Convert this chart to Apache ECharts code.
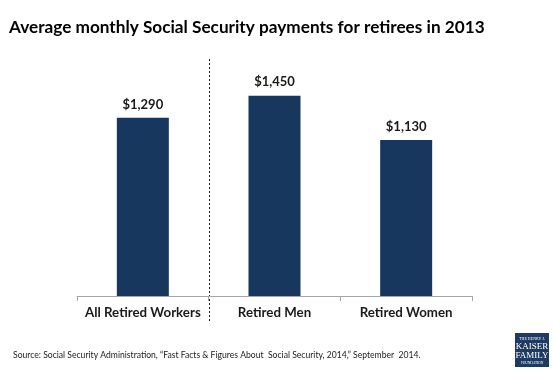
<!DOCTYPE html>
<html>
<head>
<meta charset="utf-8">
<script src="https://cdn.jsdelivr.net/npm/echarts@6/dist/echarts.min.js"></script>
<style>
html,body{margin:0;padding:0;background:#fff;}
#c{width:553px;height:369px;}
</style>
</head>
<body>
<div id="c"></div>
<script>
const categories = ['All Retired Workers', 'Retired Men', 'Retired Women'];
const payments = [1290, 1450, 1130];
const titleText = 'Average monthly Social Security payments for retirees in 2013';
const sourceText = 'Source: Social Security Administration, \u201cFast Facts & Figures About  Social Security, 2014,\u201d September  2014.';

const FONT = 'Lato';
const chart = echarts.init(document.getElementById('c'), null, {renderer: 'canvas'});
chart.setOption({
  animation: false,
  backgroundColor: '#ffffff',
  title: {
    text: titleText,
    left: 4, top: 14,
    textStyle: {fontFamily: FONT, fontWeight: 'bold', fontSize: 17.2, color: '#000000'}
  },
  grid: {left: 77, right: 81, top: 75, bottom: 73, containLabel: false},
  xAxis: {
    type: 'category',
    data: categories,
    axisLine: {lineStyle: {color: '#a6a6a6', width: 1}},
    axisTick: {show: true, length: 5, lineStyle: {color: '#a6a6a6'}},
    axisLabel: {interval: 0, hideOverlap: false, fontFamily: FONT, fontWeight: 'bold', fontSize: 13.3, color: '#1a1a1a', margin: 10}
  },
  yAxis: {type: 'value', min: 0, max: 1600, show: false, splitLine: {show: false}},
  series: [{
    type: 'bar',
    data: payments,
    barWidth: 52,
    itemStyle: {color: '#17375e'},
    label: {
      show: true, position: 'top', distance: 7,
      fontFamily: FONT, fontWeight: 'bold', fontSize: 13, color: '#1a1a1a',
      formatter: p => '$' + p.value.toLocaleString('en-US')
    }
  }]
});

const x0 = chart.convertToPixel({xAxisIndex: 0}, 0);
const x1 = chart.convertToPixel({xAxisIndex: 0}, 1);
const sepX = Math.round((x0 + x1) / 2) + 0.5;
chart.setOption({
  graphic: [
    {type: 'line', shape: {x1: sepX, y1: 59, x2: sepX, y2: 323},
     style: {stroke: '#1a1a1a', lineWidth: 1, lineDash: [2, 2]}},
    {type: 'text', left: 13, top: 351,
     style: {text: sourceText, fontFamily: FONT, fontSize: 8.6, fill: '#1a1a1a'}},
    {type: 'group', left: 515, top: 333, children: [
      {type: 'rect', shape: {x: 0, y: 0, width: 34, height: 34}, style: {fill: '#1f3a60'}},
      {type: 'text', style: {x: 17, y: 4, text: 'THE HENRY J.', fontFamily: 'Liberation Serif', fontSize: 4, fill: '#ffffff', align: 'center'}},
      {type: 'text', style: {x: 17, y: 9, text: 'KAISER', fontFamily: 'Liberation Serif', fontSize: 9, fill: '#ffffff', align: 'center'}},
      {type: 'text', style: {x: 17, y: 18, text: 'FAMILY', fontFamily: 'Liberation Serif', fontSize: 9, fill: '#ffffff', align: 'center'}},
      {type: 'text', style: {x: 17, y: 28, text: 'FOUNDATION', fontFamily: 'Liberation Serif', fontSize: 3.5, fill: '#ffffff', align: 'center'}}
    ]}
  ]
});
</script>
</body>
</html>
